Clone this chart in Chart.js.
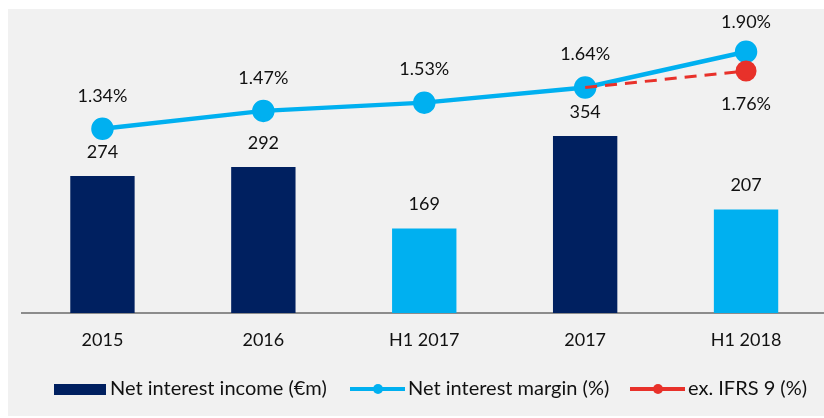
<!DOCTYPE html>
<html>
<head>
<meta charset="utf-8">
<script src="https://cdn.jsdelivr.net/npm/chart.js@4"></script>
<style>
  html, body { margin: 0; padding: 0; background: #fff; overflow: hidden; width: 824px; height: 418px; }
  #bg { position: absolute; left: 8px; top: 9px; width: 816px; height: 407px; background: #f1f1f1; }
  #wrap { position: absolute; left: 0; top: 0; width: 840px; height: 418px; }
</style>
</head>
<body>
<div id="bg"></div>
<div id="wrap"><canvas id="nimChart" width="840" height="418"></canvas></div>
<script>
const categories = ["2015", "2016", "H1 2017", "2017", "H1 2018"];
const netInterestIncome = [274, 292, 169, 354, 207];
const netInterestMargin = [1.34, 1.47, 1.53, 1.64, 1.90];
const exIfrs9 = [null, null, null, 1.64, 1.76];
const legendLabels = ["Net interest income (\u20ACm)", "Net interest margin (%)", "ex. IFRS 9 (%)"];

const NAVY = "#002060";
const BLUE = "#00b0f0";
const RED = "#e8312a";
const FONT = "Lato, 'Open Sans', sans-serif";

const barColors = categories.map(c => c.startsWith("H1") ? BLUE : NAVY);

// value labels over bars and line points
const valueLabels = {
    id: "valueLabels",
    afterDatasetsDraw(chart) {
        const ctx = chart.ctx;
        ctx.save();
        ctx.font = "18px " + FONT;
        ctx.fillStyle = "#111";
        ctx.textAlign = "center";
        ctx.textBaseline = "middle";

        chart.getDatasetMeta(0).data.forEach((bar, i) => {
            ctx.fillText(netInterestIncome[i], bar.x, bar.y - 24);
        });
        chart.getDatasetMeta(1).data.forEach((pt, i) => {
            const off = i === 4 ? 30 : 33;
            ctx.fillText(netInterestMargin[i].toFixed(2) + "%", pt.x, pt.y - off);
        });
        const red = chart.getDatasetMeta(2).data[4];
        ctx.fillText(exIfrs9[4].toFixed(2) + "%", red.x, red.y + 33);
        ctx.restore();
    }
};

// legend drawn at the bottom
const bottomLegend = {
    id: "bottomLegend",
    afterDraw(chart) {
        const ctx = chart.ctx;
        const y = 389;
        ctx.save();
        ctx.font = "20px " + FONT;
        ctx.fillStyle = "#111";
        ctx.textBaseline = "middle";
        ctx.textAlign = "left";

        ctx.fillStyle = NAVY;
        ctx.fillRect(54, 384, 52, 11);
        ctx.fillStyle = "#111";
        ctx.fillText(legendLabels[0], 110, y);

        [[350, BLUE, legendLabels[1], 408], [630, RED, legendLabels[2], 688]].forEach(([x, col, txt, tx]) => {
            ctx.strokeStyle = col;
            ctx.lineWidth = 4;
            ctx.beginPath();
            ctx.moveTo(x, y);
            ctx.lineTo(x + 55, y);
            ctx.stroke();
            ctx.fillStyle = col;
            ctx.beginPath();
            ctx.arc(x + 28, y, 5, 0, Math.PI * 2);
            ctx.fill();
            ctx.fillStyle = "#111";
            ctx.fillText(txt, tx, y);
        });
        ctx.restore();
    }
};

new Chart(document.getElementById("nimChart"), {
    data: {
        labels: categories,
        datasets: [
            {
                type: "bar",
                label: legendLabels[0],
                data: netInterestIncome,
                backgroundColor: barColors,
                yAxisID: "y",
                barPercentage: 0.4,
                categoryPercentage: 1,
                order: 3
            },
            {
                type: "line",
                label: legendLabels[1],
                data: netInterestMargin,
                borderColor: BLUE,
                backgroundColor: BLUE,
                borderWidth: 4.5,
                pointRadius: 9,
                pointHoverRadius: 9,
                tension: 0,
                yAxisID: "y1",
                order: 2
            },
            {
                type: "line",
                label: legendLabels[2],
                data: exIfrs9,
                borderColor: RED,
                backgroundColor: RED,
                borderWidth: 3,
                borderDash: [12, 8],
                pointRadius: [0, 0, 0, 0, 9],
                tension: 0,
                yAxisID: "y1",
                order: 1
            }
        ]
    },
    options: {
        responsive: false,
        animation: false,
        devicePixelRatio: 1,
        layout: { padding: { left: 22, right: 8, top: 38, bottom: 55 } },
        plugins: { legend: { display: false }, tooltip: { enabled: false } },
        scales: {
            x: {
                grid: { drawOnChartArea: false, drawTicks: false },
                border: { display: true, color: "#8c8c8c", width: 2 },
                ticks: { color: "#111", font: { family: FONT, size: 18 }, padding: 16 },
                afterFit(scale) { scale.height = 50; }
            },
            y: { display: false, min: 0, max: 550 },
            y1: { display: false, min: 0, max: 2.0, position: "right" }
        }
    },
    plugins: [valueLabels, bottomLegend]
});
</script>
</body>
</html>
